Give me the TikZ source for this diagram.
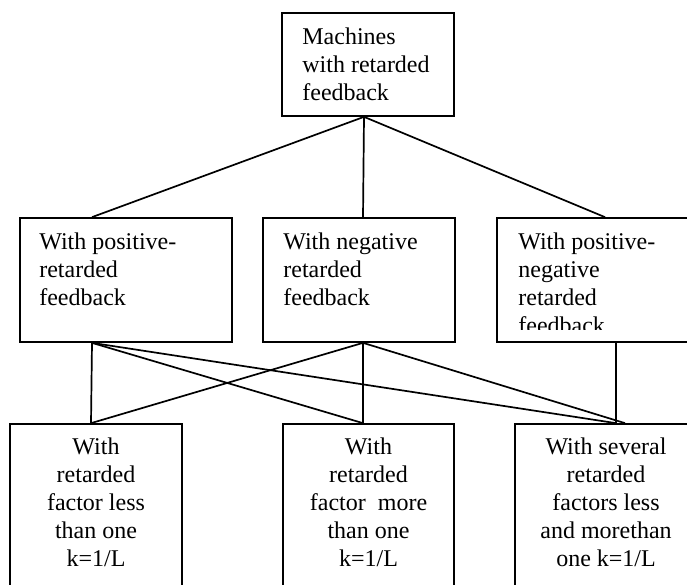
\documentclass[tikz,border=0pt]{standalone}
\usepackage{fontspec}
\setmainfont{Liberation Serif}
\begin{document}
\begin{tikzpicture}%
	[
	x={(1pt,0pt)},
	y={(0pt,-1pt)},
	box/.style={draw=black, line width=1.7pt, inner sep=0pt},
	link/.style={draw=black, line width=1.7pt},
	lefttext/.style={inner sep=0pt, anchor=base west, align=left, font=\fontsize{24}{28}\selectfont},
	midtext/.style={inner sep=0pt, anchor=base, align=center, font=\fontsize{24}{28}\selectfont}]

\useasboundingbox (0,0) rectangle (687,584);
\clip (0,0) rectangle (687,584);

% top
\node[box, minimum width=172pt, minimum height=103pt] (machines) at (368,64.5) {};
\node[lefttext] (machinestxt) at ([xshift=21pt, yshift=-88pt]machines.north west) {Machines\\with retarded\\feedback};

% middle row
\node[box, minimum width=212pt, minimum height=124pt] (pos) at (126,280) {};
\node[box, minimum width=192pt, minimum height=124pt] (neg) at (359,280) {};
\node[box, minimum width=216pt, minimum height=124pt] (posneg) at (605,280) {};
\node[lefttext] (postxt) at ([xshift=20pt, yshift=-88pt]pos.north west) {With positive-\\retarded\\feedback};
\node[lefttext] (negtxt) at ([xshift=21pt, yshift=-88pt]neg.north west) {With negative\\retarded\\feedback};
\begin{scope}
	\clip (posneg.north west) rectangle ([yshift=13pt]posneg.south east);
	\node[lefttext] (posnegtxt) at ([xshift=22pt, yshift=-116pt]posneg.north west) {With positive-\\negative\\retarded\\feedback};
\end{scope}

% bottom row
\node[box, minimum width=172pt, minimum height=176pt] (less) at (96,512) {};
\node[box, minimum width=171pt, minimum height=176pt] (more) at (368.5,512) {};
\node[box, minimum width=182pt, minimum height=176pt] (several) at (606,512) {};
\node[midtext] (lesstxt) at ([yshift=-143pt]less.north) {With\\retarded\\factor less\\than one\\k=1/L};
\node[midtext] (moretxt) at ([yshift=-143pt]more.north) {With\\retarded\\factor\ \ more\\than one\\k=1/L};
\node[midtext] (severaltxt) at ([yshift=-143pt]several.north) {With several\\retarded\\factors less\\and morethan\\one k=1/L};

% links
\draw[link] ([xshift=-4pt]machines.south) -- ([xshift=-34pt]pos.north);
\draw[link] ([xshift=-4pt]machines.south) -- ([xshift=4pt]neg.north);
\draw[link] ([xshift=-4pt]machines.south) -- (posneg.north);

\draw[link] ([xshift=-34pt]pos.south) -- ([xshift=-5pt]less.north);
\draw[link] ([xshift=-34pt]pos.south) -- ([xshift=-5.5pt]more.north);
\draw[link] ([xshift=-34pt]pos.south) -- ([xshift=10pt]several.north);
\draw[link] ([xshift=4pt]neg.south) -- ([xshift=-5pt]less.north);
\draw[link] ([xshift=4pt]neg.south) -- ([xshift=-5.5pt]more.north);
\draw[link] ([xshift=4pt]neg.south) -- ([xshift=19pt]several.north);
\draw[link] ([xshift=11pt]posneg.south) -- ([xshift=10pt]several.north);
\end{tikzpicture}
\end{document}
